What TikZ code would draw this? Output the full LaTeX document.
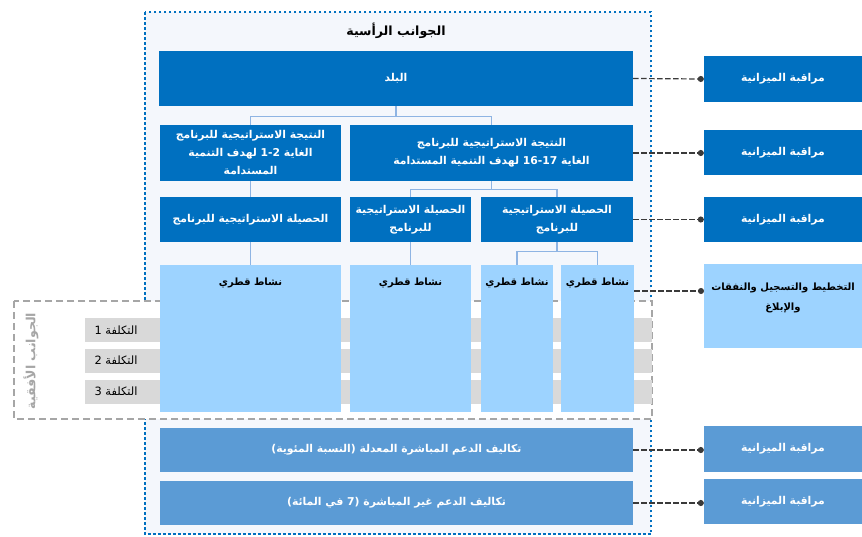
\documentclass[tikz,border=0pt]{standalone}
\usepackage{fontspec}
\usetikzlibrary{arrows.meta}
\newfontfamily\arabicfont[Script=Arabic]{DejaVu Sans}
\TeXXeTstate=1

\definecolor{boxblue}{HTML}{0070C0}
\definecolor{actblue}{HTML}{9DD3FF}
\definecolor{lowblue}{HTML}{5B9BD5}
\definecolor{barbg}{HTML}{D9D9D9}
\definecolor{panelbg}{HTML}{F4F7FC}
\definecolor{treeline}{HTML}{8EB4E3}
\definecolor{framegray}{HTML}{A6A6A6}
\definecolor{linkgray}{HTML}{3A3A3A}

\tikzset{
  darkbox/.style={rectangle, fill=boxblue, text=white, align=center, inner sep=0pt,
    font=\arabicfont\bfseries\fontsize{10.8}{18}\selectfont},
  lowbox/.style={darkbox, fill=lowblue},
  actbox/.style={rectangle, fill=actblue, inner sep=0pt},
  acttext/.style={anchor=north, yshift=-13pt, inner sep=0pt, text=black, align=center,
    font=\arabicfont\bfseries\fontsize{10}{20}\selectfont},
  costbar/.style={rectangle, fill=barbg, inner sep=0pt},
  costtext/.style={inner sep=0pt, font=\arabicfont\fontsize{11.4}{13}\selectfont},
  tree/.style={draw=treeline, line width=1.3pt},
  link/.style={draw=linkgray, line width=1.2pt, dash pattern=on 5.5pt off 2.5pt,
    -{Circle[length=6pt,linkgray]}}
}

\begin{document}
\begin{tikzpicture}[x=1pt,y=-1pt]
\useasboundingbox (0,0) rectangle (862,536);

% frames for the two aspects
\draw[draw=boxblue, fill=panelbg, line width=2.5pt, dash pattern=on 2.5pt off 2.5pt]
  (145,12) rectangle (651,534);
\draw[draw=framegray, fill=white, line width=2pt, dash pattern=on 7pt off 4pt]
  (14,301) rectangle (652,419);

\node[font=\arabicfont\bfseries\fontsize{12.6}{15}\selectfont] (vert) at (396,31) {\beginR الجوانب الرأسية\endR};
\node[rotate=90, text=framegray, font=\arabicfont\bfseries\fontsize{12.6}{15}\selectfont] (horiz) at (31,361) {\beginR الجوانب الأفقية\endR};

% cost rows
\begin{scope}[every node/.style={costbar, minimum width=567pt, minimum height=24pt}]
    \node (cost1) at (368.5,330) {};
    \node (cost2) at (368.5,360.5) {};
    \node (cost3) at (368.5,391.5) {};
\end{scope}
\node[costtext] (c1) at (116,330) {\beginR التكلفة 1\endR};
\node[costtext] (c2) at (116,360.5) {\beginR التكلفة 2\endR};
\node[costtext] (c3) at (116,391.5) {\beginR التكلفة 3\endR};

% vertical hierarchy
\node[darkbox, minimum width=474pt, minimum height=55pt] (country) at (396,78.5) {\beginR البلد\endR};
\node[darkbox, minimum width=181pt, minimum height=56pt] (so2) at (250.5,153)
  {\beginR النتيجة الاستراتيجية للبرنامج\endR\\\beginR الغاية \beginL1-2\endL{} لهدف التنمية\endR\\\beginR المستدامة\endR};
\node[darkbox, minimum width=283pt, minimum height=56pt] (so17) at (491.5,153)
  {\beginR النتيجة الاستراتيجية للبرنامج\endR\\\beginR الغاية \beginL16-17\endL{} لهدف التنمية المستدامة\endR};
\node[darkbox, minimum width=181pt, minimum height=45pt] (out3) at (250.5,219.5) {\beginR الحصيلة الاستراتيجية للبرنامج\endR};
\node[darkbox, minimum width=121pt, minimum height=45pt] (out2) at (410.5,219.5) {\beginR الحصيلة الاستراتيجية\endR\\\beginR للبرنامج\endR};
\node[darkbox, minimum width=152pt, minimum height=45pt] (out1) at (557,219.5) {\beginR الحصيلة الاستراتيجية\endR\\\beginR للبرنامج\endR};

\node[actbox, minimum width=181pt, minimum height=147pt, label={[acttext]north:\beginR نشاط قطري\endR}] (act1) at (250.5,338.5) {};
\node[actbox, minimum width=121pt, minimum height=147pt, label={[acttext]north:\beginR نشاط قطري\endR}] (act2) at (410.5,338.5) {};
\node[actbox, minimum width=72pt, minimum height=147pt, label={[acttext]north:\beginR نشاط قطري\endR}] (act3) at (517,338.5) {};
\node[actbox, minimum width=73pt, minimum height=147pt, label={[acttext]north:\beginR نشاط قطري\endR}] (act4) at (597.5,338.5) {};

\node[lowbox, minimum width=473pt, minimum height=44pt] (direct) at (396.5,450) {\beginR تكاليف الدعم المباشرة المعدلة (النسبة المئوية)\endR};
\node[lowbox, minimum width=473pt, minimum height=44pt] (indirect) at (396.5,503) {\beginR تكاليف الدعم غير المباشرة (7 في المائة)\endR};

% tree lines
\draw[tree] (country.south) -- ++(0,10) -| (so2.north);
\draw[tree] (country.south) -- ++(0,10) -| (so17.north);
\draw[tree] (so2.south) -- (out3.north);
\draw[tree] (so17.south) -- ++(0,8) -| (out2.north);
\draw[tree] (so17.south) -- ++(0,8) -| (out1.north);
\draw[tree] (out3.south) -- (act1.north);
\draw[tree] (out2.south) -- (act2.north);
\draw[tree] (out1.south) -- ++(0,9) -| (act3.north);
\draw[tree] (out1.south) -- ++(0,9) -| (act4.north);

% budget side
\node[darkbox, minimum width=158pt, minimum height=46pt] (ctrl1) at (783,79) {\beginR مراقبة الميزانية\endR};
\node[darkbox, minimum width=158pt, minimum height=45pt] (ctrl2) at (783,152.5) {\beginR مراقبة الميزانية\endR};
\node[darkbox, minimum width=158pt, minimum height=45pt] (ctrl3) at (783,219.5) {\beginR مراقبة الميزانية\endR};
\node[actbox, minimum width=158pt, minimum height=84pt,
  label={[acttext, yshift=-6pt]north:\beginR التخطيط والتسجيل والنفقات\endR\\\beginR والإبلاغ\endR}] (plan) at (783,306) {};
\node[lowbox, minimum width=158pt, minimum height=46pt] (ctrl4) at (783,449) {\beginR مراقبة الميزانية\endR};
\node[lowbox, minimum width=158pt, minimum height=45pt] (ctrl5) at (783,501.5) {\beginR مراقبة الميزانية\endR};

\coordinate (pin) at (704,291);
\path[link] (country.east) -- (ctrl1.west);
\path[link] (so17.east) -- (so17.east -| ctrl2.west);
\path[link] (out1.east) -- (ctrl3.west);
\path[link] (act4.east |- pin) -- (pin);
\path[link] (direct.east) -- (direct.east -| ctrl4.west);
\path[link] (indirect.east) -- (indirect.east -| ctrl5.west);
\end{tikzpicture}
\end{document}
